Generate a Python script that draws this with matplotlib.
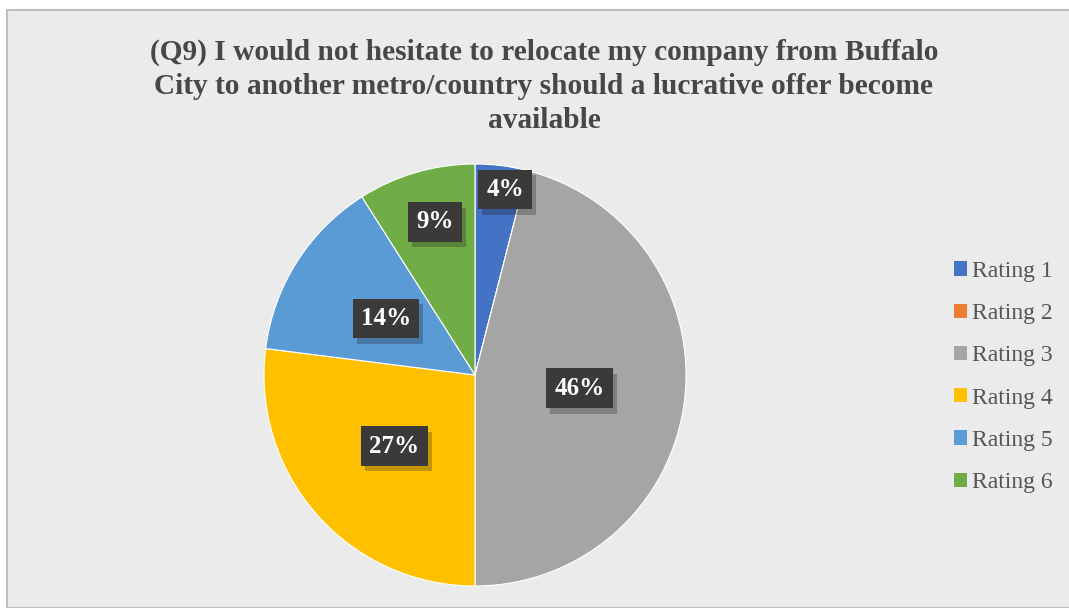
import matplotlib
matplotlib.use("Agg")
import matplotlib.pyplot as plt
import matplotlib.patches as mpatches
import matplotlib.patheffects as pe
import numpy as np

categories = ["Rating 1", "Rating 2", "Rating 3", "Rating 4", "Rating 5", "Rating 6"]
shares = [4, 0, 46, 27, 14, 9]
colors = ["#4472c4", "#ed7d31", "#a5a5a5", "#ffc000", "#5b9bd5", "#70ad47"]
title = ("(Q9) I would not hesitate to relocate my company from Buffalo\n"
         "City to another metro/country should a lucrative offer become\n"
         "available")
# data label placement: fraction of radius and angular nudge (degrees)
label_radius = [0.89, 0.5, 0.50, 0.51, 0.50, 0.75]
label_nudge = [2.0, 0.0, 0.0, 0.0, 0.0, 1.5]

W, H = 1069, 608
fig = plt.figure(figsize=(W / 100, H / 100), dpi=100)
fig.patch.set_facecolor("white")

# chart area panel with border
panel = mpatches.Rectangle((7 / W, 0), 1 - 7 / W + 0.01, (H - 10) / H,
                           transform=fig.transFigure, facecolor="#ebebeb",
                           edgecolor="#bfbfbf", linewidth=1.5, zorder=-5)
fig.patches.append(panel)

serif = ["Liberation Serif", "DejaVu Serif"]
fig.text(544 / W, 1 - 39 / H, title, ha="center", va="top", fontsize=21.2,
         fontweight="bold", color="#474747", family=serif, linespacing=1.32)

cx, cy, r = 475, 375, 211
ax = fig.add_axes([(cx - r) / W, (H - cy - r) / H, 2 * r / W, 2 * r / H])

wedges, _ = ax.pie(shares, colors=colors, startangle=90, counterclock=False,
                   radius=1, wedgeprops=dict(edgecolor="white", linewidth=0.8))
ax.set_xlim(-1, 1)
ax.set_ylim(-1, 1)
ax.set_aspect("equal")
ax.axis("off")

total = sum(shares)
cum = 0
for val, lr, nd in zip(shares, label_radius, label_nudge):
    if val > 0:
        mid = (cum + val / 2) / total * 360 + nd
        ang = np.deg2rad(90 - mid)
        ax.text(lr * np.cos(ang), lr * np.sin(ang), f"{val}%",
                ha="center", va="center", fontsize=18, fontweight="bold",
                color="white", family=serif, zorder=5,
                bbox=dict(boxstyle="square,pad=0.33", facecolor="#3b3a39",
                          edgecolor="none",
                          path_effects=[pe.SimplePatchShadow(offset=(3, -4), alpha=0.25),
                                        pe.Normal()]))
    cum += val

handles = [mpatches.Patch(facecolor=c, edgecolor="none") for c in colors]
leg = fig.legend(handles, categories, loc="center left",
                 bbox_to_anchor=(933 / W, 1 - 377 / H), frameon=False,
                 prop=dict(family=serif, size=17), labelcolor="#555555",
                 handlelength=0.55, handleheight=0.55, handletextpad=0.2,
                 labelspacing=0.9)

fig.savefig("out.png", dpi=100, facecolor=fig.get_facecolor())
